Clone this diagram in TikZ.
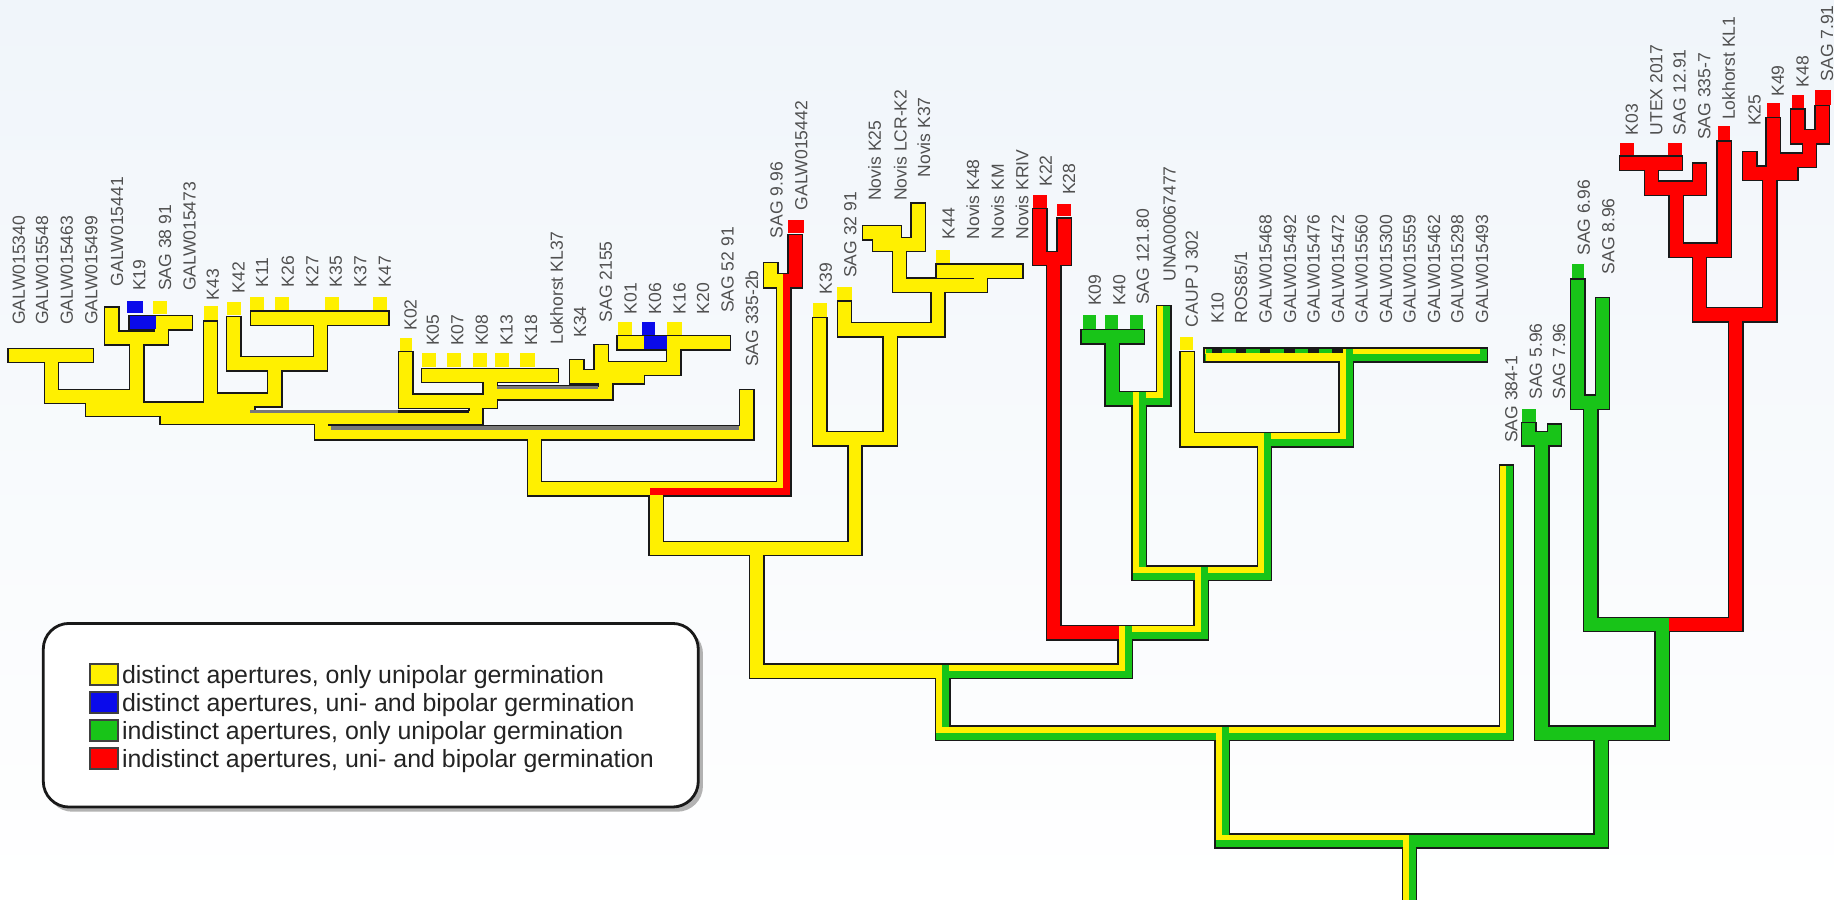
\documentclass[tikz,border=0pt]{standalone}
\usepackage{fontspec}
\setmainfont{Liberation Sans}
\definecolor{cY}{RGB}{255,240,0}
\definecolor{cG}{RGB}{24,196,24}
\definecolor{cR}{RGB}{255,0,0}
\definecolor{cB}{RGB}{10,10,235}
\definecolor{cK}{RGB}{25,25,25}
\definecolor{labc}{RGB}{80,80,80}
\definecolor{legc}{RGB}{35,35,35}
\definecolor{bgtop}{RGB}{240,245,250}
\definecolor{artg}{RGB}{120,120,120}
\newif\ifcolpass
\newcommand\brY[1]{\ifcolpass\draw[cY,line width=5.5pt] #1;\else\draw[cK,line width=6.75pt] #1;\fi}
\newcommand\brG[1]{\ifcolpass\draw[cG,line width=5.5pt] #1;\else\draw[cK,line width=6.75pt] #1;\fi}
\newcommand\brR[1]{\ifcolpass\draw[cR,line width=5.5pt] #1;\else\draw[cK,line width=6.75pt] #1;\fi}
\newcommand\brB[1]{\ifcolpass\draw[cB,line width=5.5pt] #1;\else\draw[cK,line width=6.75pt] #1;\fi}
\newcommand\brYG[1]{\ifcolpass\draw[cG,line width=5.5pt] #1;\draw[cY,line width=2.5pt,shift={(-3,-3)}] #1;\else\draw[cK,line width=6.75pt] #1;\fi}
\newcommand\brYR[1]{\ifcolpass\draw[cR,line width=5.5pt] #1;\draw[cY,line width=2.5pt,shift={(-3,-3)}] #1;\else\draw[cK,line width=6.75pt] #1;\fi}
\newcommand\branches{%
% ---- yellow ----
\brY{(13,304)--(74,304)}
\brY{(44,304)--(44,339)--(117,339)}
\brY{(95.5,268.5)--(95.5,289)--(138,289)--(138,276)}
\brY{(116.5,276)--(158.5,276)}
\brY{(117,289)--(117,339)}
\brY{(79,339)--(79,350)}
\brY{(180,280.5)--(180,342)--(235,342)--(235,311)}
\brY{(200,276.5)--(200,311)--(274,311)--(274,272)}
\brY{(220.5,272)--(326.5,272)}
\brY{(212,342)--(212,350)}
\brY{(79,350)--(212,350)}
\brY{(143,350)--(143,357)}
\brY{(143,357)--(407,357)}
\brY{(347,306.5)--(347,343)--(419,343)--(419,321)}
\brY{(366.5,321)--(471.5,321)}
\brY{(419,336)--(518,336)--(518,322)}
\brY{(493,313.5)--(493,322)--(545,322)--(545,315)}
\brY{(514,300.5)--(514,315)--(576,315)--(576,293)}
\brY{(533.5,293)--(618.5,293)}
\brY{(407,343)--(407,357)}
\brY{(275,357)--(275,370)}
\brY{(275,370)--(638.5,370)--(638.5,339)}
\brY{(457,370)--(457,418)--(561,418)}
\brY{(561,418)--(561,469)--(731,469)--(731,375)}
\brY{(659,230.5)--(659,240)--(670,240)}
\brY{(701,277.5)--(701,375)--(761,375)--(761,282)}
\brY{(722,263.5)--(722,282)--(802,282)--(802,244)}
\brY{(769,244)--(838,244)--(838,232)}
\brY{(806.5,232)--(868.5,232)}
\brY{(743.5,199)--(764.5,199)}
\brY{(752,199)--(752,209)--(785,209)--(785,179.5)}
\brY{(769,209)--(769,244)}
\brY{(647,469)--(647,574)--(806,574)}
\brY{(1015,306.5)--(1015,376)--(1081,376)}
% ---- blue ----
\brB{(116.5,276)--(127.5,276)}
\brB{(556.5,293)--(564.5,293)}
% ---- red ----
\brR{(680,206.5)--(680,240)--(670,240)}
\brR{(889,184.5)--(889,221)--(910,221)--(910,192.5)}
\brR{(901,221)--(901,541)--(962,541)}
\brR{(1390.5,139.5)--(1432.5,139.5)}
\brR{(1412,139.5)--(1412,161)--(1453,161)--(1453,145.5)}
\brR{(1433,161)--(1433,214)--(1474,214)--(1474,126.5)}
\brR{(1453,214)--(1453,269)--(1513,269)}
\brR{(1537,99.5)--(1537,117)--(1558,117)--(1558,96.5)}
\brR{(1547,117)--(1547,137)}
\brR{(1516,106.5)--(1516,137)--(1547,137)}
\brR{(1531,137)--(1531,148)}
\brR{(1496,135.5)--(1496,148)--(1531,148)}
\brR{(1513,148)--(1513,269)}
\brR{(1484,269)--(1484,534)--(1421,534)}
% ---- green ----
\brG{(930.5,288)--(972.5,288)}
\brG{(951,288)--(951,341)--(974,341)}
\brG{(1307,367.5)--(1307,375)--(1329,375)--(1329,368.5)}
\brG{(1318,375)--(1318,627)--(1421,627)}
\brG{(1349,244.5)--(1349,344)--(1370,344)--(1370,260.5)}
\brG{(1360,344)--(1360,534)--(1421,534)--(1421,627)}
\brG{(1369,627)--(1369,719)--(1205,719)}
% ---- yellow/green ----
\brYG{(995,267.5)--(995,341)--(974,341)}
\brYG{(974,341)--(974,490)--(1081,490)}
\brYG{(1035.5,303.5)--(1265.5,303.5)}
\brYG{(1151,303.5)--(1151,376)}
\brYG{(1081,376)--(1151,376)}
\brYG{(1081,376)--(1081,490)}
\brYG{(1027,490)--(1027,541)}
\brYG{(962,541)--(1027,541)}
\brYG{(962,541)--(962,574)}
\brYG{(806,574)--(962,574)}
\brYG{(806,574)--(806,627)--(1288,627)--(1288,403.5)}
\brYG{(1045,627)--(1045,719)--(1205,719)}
\brYG{(1205,719)--(1205,780)}
% ---- yellow/red ----
\brYR{(670,240)--(670,418)--(561,418)}
}
\begin{document}
\begin{tikzpicture}[x=0.5pt,y=-0.5pt,line cap=rect,line join=miter,
  lab/.style={rotate=90,anchor=west,inner sep=0pt,text=labc,
    font=\fontsize{7.5}{9}\selectfont,text height=0.72em,text depth=0pt},
  legtext/.style={anchor=base west,inner sep=0pt,text=legc,
    font=\fontsize{10.65}{12}\selectfont},
  legbox/.style={draw=black!75,line width=0.8pt}]
\useasboundingbox (0,0) rectangle (1568,769);
\fill[top color=bgtop,bottom color=white] (0,0) rectangle (1568,769);
% ---- state marks ----
\foreach \a/\b in {131/257,174/262,194/258,214/254,235/254,278/254,319/254}
  \fill[cY] (\a,\b) rectangle ++(12,11.5);
\fill[cY] (342,289) rectangle (352,301);
\foreach \a in {361,382,404,423,445} \fill[cY] (\a,302) rectangle ++(12,12);
\fill[cY] (528,275) rectangle (540,286);
\fill[cY] (570,275) rectangle (583,286);
\fill[cY] (695,259) rectangle (707,271);
\fill[cY] (716,245) rectangle (728,258);
\fill[cY] (800,214) rectangle (812,225);
\fill[cY] (1009,288) rectangle (1020,299);
\fill[cB] (109,257) rectangle (122,268);
\fill[cB] (549,275) rectangle (560,286);
\foreach \a in {926,945,966} \fill[cG] (\a,269) rectangle ++(11,12);
\fill[cG] (1301,350) rectangle (1313,361);
\fill[cG] (1344,226) rectangle (1354,238);
\fill[cR] (674,188) rectangle (687,199);
\fill[cR] (883,167) rectangle (895,178);
\fill[cR] (904,174) rectangle (916,185);
\fill[cR] (1385,122) rectangle (1397,134);
\fill[cR] (1426,122) rectangle (1438,134);
\fill[cR] (1469,108) rectangle (1479,121);
\fill[cR] (1511,88) rectangle (1522,101);
\fill[cR] (1532,81) rectangle (1542,94);
\fill[cR] (1552,77) rectangle (1565,90);
% ---- branches: outline pass, then colour pass ----
\colpassfalse\branches
\colpasstrue\branches
% ---- zero-length tips on the K10 bar ----
\fill[cY] (1031,298.5) rectangle (1146,308.5);
\fill[cG] (1031,298.5) rectangle (1146,301.5);
\foreach \i in {0,...,5} \fill[cK] ({1036+20.6*\i},298.5) rectangle ++(9,3);
% ---- drawing artefacts ----
\draw[artg,line width=1.4pt,line cap=butt] (283,366)--(632,366);
\draw[artg,line width=1.4pt,line cap=butt] (214,352)--(340,352);
\draw[cK,line width=1.4pt,line cap=butt] (340,352)--(401,352);
\draw[artg,line width=1.4pt,line cap=butt] (425,331)--(511,331);
% ---- tip labels ----
\foreach \x/\y/\t [count=\i] in {14/278/GALW015340,34/278/GALW015548,55/278/GALW015463,
 76/278/GALW015499,98/245/GALW015441,117/249/K19,139/249/SAG 38 91,160/249/GALW015473,
 180/257/K43,202/251/K42,222/246/K11,244/246/K26,265/246/K27,285/246/K35,306/246/K37,
 327/246/K47,349/283/K02,368/296/K05,389/296/K07,410/296/K08,431/296/K13,452/296/K18,
 474/295/Lokhorst KL37,494/289/K34,516/276/SAG 2155,537/269/K01,558/269/K06,579/269/K16,
 599/269/K20,620/268/SAG 52 91,641/314/SAG 335-2b,662/204/SAG 9.96,683/180/GALW015442,
 704/252/K39,725/238/SAG 32 91,746/172/Novis K25,768/172/Novis LCR-K2,788/152/Novis K37,
 809/205/K44,830/205/Novis K48,851/205/Novis KM,872/205/Novis KRIV,892/160/K22,912/167/K28,
 934/262/K09,955/262/K40,975/261/SAG 121.80,998/241/UNA00067477,1017/280/CAUP J 302,
 1039/277/K10,1080/277/GALW015468,1101/277/GALW015492,1121/277/GALW015476,
 1142/277/GALW015472,1162/277/GALW015560,1183/277/GALW015300,1203/277/GALW015559,
 1224/277/GALW015462,1244/277/GALW015298,1265/277/GALW015493,1290/379/SAG 384-1,
 1311/342/SAG 5.96,1331/342/SAG 7.96,1352/219/SAG 6.96,1373/235/SAG 8.96,1393/116/K03,
 1414/116/UTEX 2017,1434/116/SAG 12.91,1455/120/SAG 335-7,1476/103/Lokhorst KL1,
 1498/108/K25,1518/83/K49,1539/75/K48,1560/70/SAG 7.91}
  \node[lab] (tip\i) at (\x,\y) {\t};
\node[lab] (tipros) at (1059,277) {ROS85/1};
% ---- legend ----
\fill[black!30,rounded corners=11pt] (40,537) rectangle (601,694);
\draw[cK,line width=1.2pt,fill=white,rounded corners=11pt] (37,533) rectangle (597,690);
\filldraw[legbox,fill=cY] (77,567.5) rectangle (101,585.5);
\filldraw[legbox,fill=cB] (77,591.5) rectangle (101,609.5);
\filldraw[legbox,fill=cG] (77,615.5) rectangle (101,633.5);
\filldraw[legbox,fill=cR] (77,639.5) rectangle (101,657.5);
\node[legtext] (leg1) at (104,584) {distinct apertures, only unipolar germination};
\node[legtext] (leg2) at (104,608) {distinct apertures, uni- and bipolar germination};
\node[legtext] (leg3) at (104,632) {indistinct apertures, only unipolar germination};
\node[legtext] (leg4) at (104,656) {indistinct apertures, uni- and bipolar germination};
\end{tikzpicture}
\end{document}
